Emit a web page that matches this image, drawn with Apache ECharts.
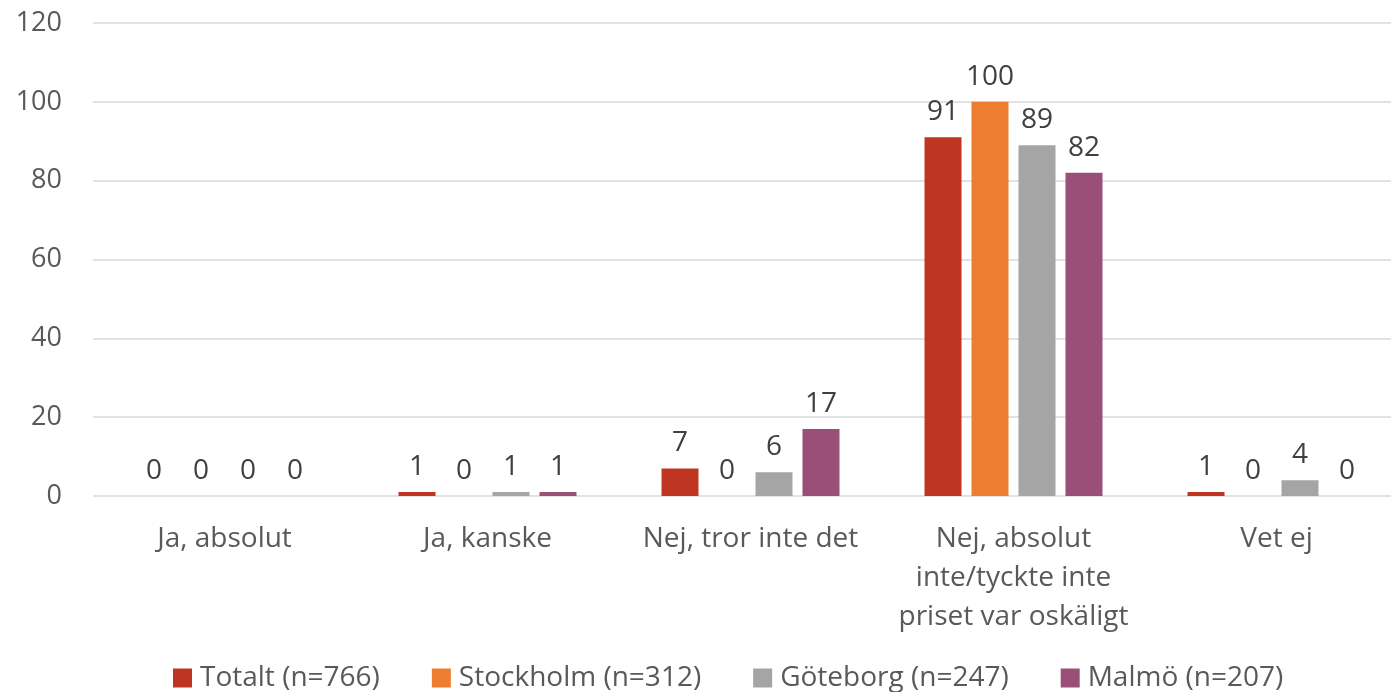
<!DOCTYPE html>
<html>
<head>
<meta charset="utf-8">
<script src="https://cdn.jsdelivr.net/npm/echarts@6/dist/echarts.min.js"></script>
<style>
  html, body { margin: 0; padding: 0; background: #fff; }
  #main { width: 1391px; height: 692px; }
</style>
</head>
<body>
<div id="main"></div>
<script>
  // kategorier och serier
  var categories = ['Ja, absolut', 'Ja, kanske', 'Nej, tror inte det', 'Nej, absolut\ninte/tyckte inte\npriset var oskäligt', 'Vet ej'];
  var seriesNames = ['Totalt (n=766)', 'Stockholm (n=312)', 'Göteborg (n=247)', 'Malmö (n=207)'];
  var totalt = [0, 1, 7, 91, 1];
  var stockholm = [0, 0, 0, 100, 0];
  var goteborg = [0, 1, 6, 89, 4];
  var malmo = [0, 1, 17, 82, 0];
  var yTicks = [0, 20, 40, 60, 80, 100, 120];

  var colors = ['#BE3622', '#ED7D31', '#A5A5A5', '#9A4F78'];
  var font = 'Open Sans, Noto Sans, sans-serif';

  var myChart = echarts.init(document.getElementById('main'));

  function makeSeries(name, data, i) {
    return {
      name: name,
      type: 'bar',
      data: data,
      barWidth: 37,
      barGap: '27%',
      itemStyle: { color: colors[i] },
      label: {
        show: true,
        position: 'top',
        distance: 11,
        color: '#404040',
        fontSize: 28,
        fontFamily: font
      }
    };
  }

  var option = {
    animation: false,
    color: colors,
    grid: { left: 93, top: 23, right: -17, bottom: 196, outerBoundsMode: 'none' },
    legend: {
      data: seriesNames,
      top: 659,
      left: 168,
      itemWidth: 19,
      itemHeight: 19,
      itemGap: 52,
      icon: 'rect',
      textStyle: { color: '#595959', fontSize: 28, fontFamily: font, padding: [0, 0, 0, 3] }
    },
    xAxis: {
      type: 'category',
      data: categories,
      axisLine: { show: false },
      axisTick: { show: false },
      axisLabel: {
        interval: 0,
        color: '#595959',
        fontSize: 28,
        fontFamily: font,
        lineHeight: 39,
        margin: 24
      }
    },
    yAxis: {
      type: 'value',
      min: yTicks[0],
      max: yTicks[yTicks.length - 1],
      interval: 20,
      axisLine: { show: false },
      axisTick: { show: false },
      splitLine: { lineStyle: { color: '#D9D9D9', width: 1.5 } },
      axisLabel: {
        color: '#595959',
        fontSize: 27,
        fontFamily: font,
        margin: 31
      }
    },
    series: [
      makeSeries(seriesNames[0], totalt, 0),
      makeSeries(seriesNames[1], stockholm, 1),
      makeSeries(seriesNames[2], goteborg, 2),
      makeSeries(seriesNames[3], malmo, 3)
    ]
  };

  myChart.setOption(option);
</script>
</body>
</html>
